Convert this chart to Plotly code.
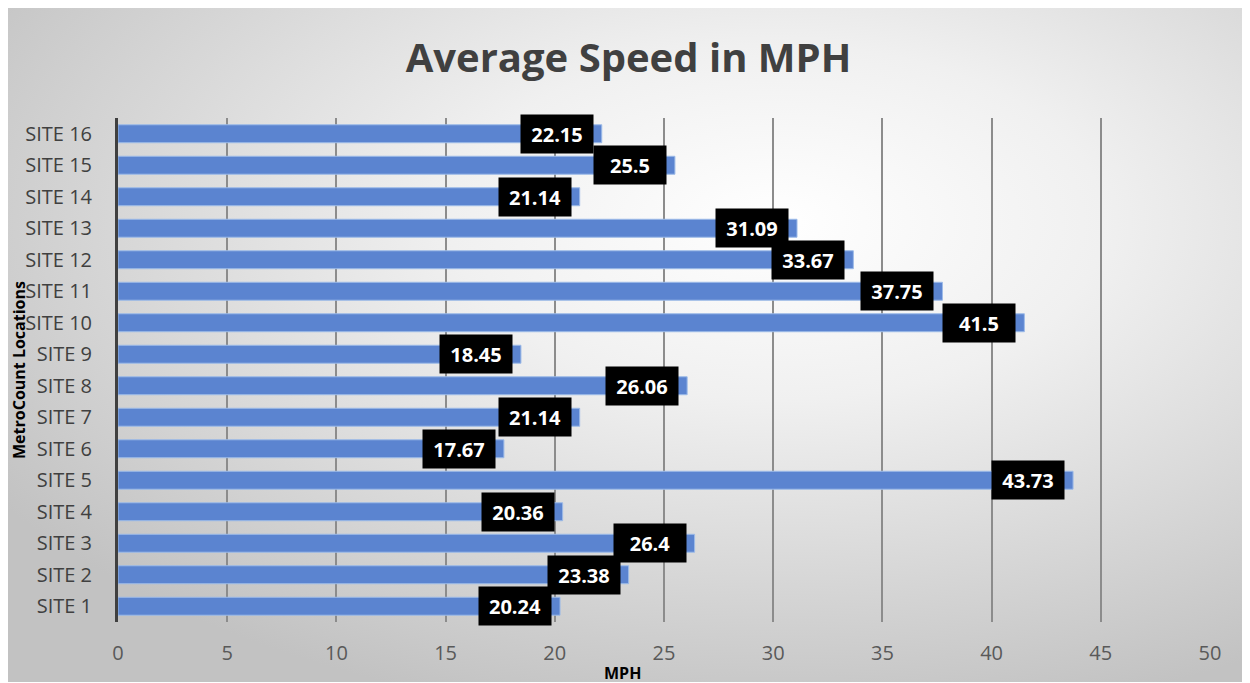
import base64
import plotly.graph_objects as go

sites = ["SITE 1", "SITE 2", "SITE 3", "SITE 4", "SITE 5", "SITE 6", "SITE 7", "SITE 8",
         "SITE 9", "SITE 10", "SITE 11", "SITE 12", "SITE 13", "SITE 14", "SITE 15", "SITE 16"]
speeds = [20.24, 23.38, 26.4, 20.36, 43.73, 17.67, 21.14, 26.06,
          18.45, 41.5, 37.75, 33.67, 31.09, 21.14, 25.5, 22.15]
x_ticks = [0, 5, 10, 15, 20, 25, 30, 35, 40, 45, 50]

W, H = 1250, 683
OFF = 8  # page body margin offset
L, T = 118 - OFF, 118 - OFF
pw, ph = 1092, 504
R = W - L - pw
B = H - T - ph

bg_w, bg_h = 1244, 676
svg = (
    f'<svg xmlns="http://www.w3.org/2000/svg" width="{bg_w}" height="{bg_h}" viewBox="0 0 {bg_w} {bg_h}" '
    'preserveAspectRatio="none">'
    '<defs><radialGradient id="g" cx="0.62" cy="0.32" r="0.75" gradientUnits="objectBoundingBox">'
    '<stop offset="0" stop-color="#ffffff"/><stop offset="0.35" stop-color="#f0f0f0"/>'
    '<stop offset="1" stop-color="#c2c2c2"/></radialGradient></defs>'
    f'<rect x="0" y="0" width="{bg_w}" height="{bg_h}" fill="url(#g)"/>'
    f'<rect x="0" y="0" width="{bg_w}" height="1.5" fill="#bdbdbd"/></svg>'
)
src = "data:image/svg+xml;base64," + base64.b64encode(svg.encode()).decode()

fig = go.Figure()
fig.add_trace(go.Bar(
    x=speeds, y=sites, orientation="h",
    marker=dict(color="#5b84d0", line=dict(color="#9dbbe8", width=1)),
    hoverinfo="x+y",
))

for s, v in zip(sites, speeds):
    fig.add_annotation(
        x=v, y=s, xref="x", yref="y", text=f"<b>{v:g}</b>", showarrow=False,
        xanchor="right", xshift=-8, bgcolor="#000000", borderpad=6,
        width=60, height=26,
        font=dict(family="Open Sans", size=20, color="#ffffff"),
    )

# x-axis title, centred on the chart frame
fig.add_annotation(
    text="<b>MPH</b>", xref="paper", yref="paper",
    x=(622 - OFF - L) / pw, y=0, yshift=-51, xanchor="center", yanchor="middle",
    showarrow=False, font=dict(family="Open Sans", size=16, color="#000000"),
)

fig.add_layout_image(
    source=src, xref="paper", yref="paper",
    x=(6 - OFF - L) / pw, y=(T + ph - (6 - OFF)) / ph, sizex=bg_w / pw, sizey=bg_h / ph,
    xanchor="left", yanchor="top", sizing="stretch", layer="below",
)

fig.update_layout(
    width=W, height=H,
    margin=dict(l=L, r=R, t=T, b=B, autoexpand=False),
    paper_bgcolor="#ffffff", plot_bgcolor="rgba(0,0,0,0)",
    bargap=0.43, showlegend=False,
    title=dict(text="<b>Average Speed in MPH</b>", x=(628.5 - OFF) / W, xref="container",
               xanchor="center", y=1 - (58 - OFF) / H, yanchor="middle",
               font=dict(family="Open Sans", size=40, color="#404040")),
    font=dict(family="Open Sans", color="#595959"),
)
fig.update_xaxes(
    range=[0, 50], tickvals=x_ticks, showgrid=True, gridcolor="#8c8c8c", gridwidth=1.5,
    zeroline=False, showline=False, ticks="", ticklabelstandoff=17,
    tickfont=dict(size=20, color="#595959"), automargin=False,
    fixedrange=True,
)
fig.update_yaxes(
    categoryorder="array", categoryarray=sites, range=[-0.5, len(sites) - 0.5],
    showgrid=False, zeroline=False,
    showline=True, linecolor="#404040", linewidth=3, ticks="",
    ticklabelstandoff=19, tickfont=dict(size=20, color="#404040"), automargin=False,
    title=dict(text="<b>MetroCount Locations</b>", font=dict(size=16, color="#000000"), standoff=0),
    fixedrange=True,
)

fig.write_html("out.html")
